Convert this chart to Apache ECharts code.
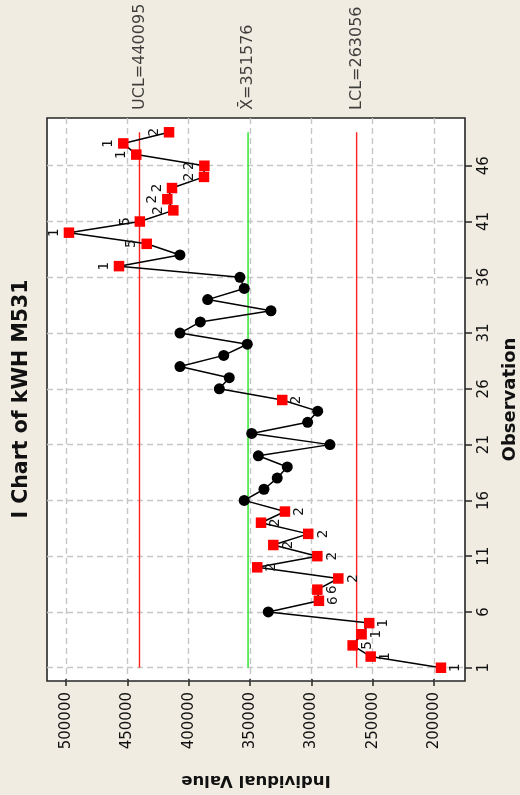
<!DOCTYPE html>
<html>
<head>
<meta charset="utf-8">
<title>I Chart of kWH M531</title>
<script src="https://cdn.jsdelivr.net/npm/echarts@6/dist/echarts.min.js"></script>
<style>
  html, body { margin: 0; padding: 0; background: #f0ece2; }
  #chart { width: 520px; height: 795px; }
</style>
</head>
<body>
<div id="chart"></div>
<script>
// Individuals control chart, drawn turned a quarter-turn: observations run
// up the right-hand axis and the measured value runs right-to-left.

const chartTitle = 'I Chart of kWH M531';
const valueAxisName = 'Individual Value';
const obsAxisName = 'Observation';

const observations = [
  1, 2, 3, 4, 5, 6, 7, 8, 9, 10,
  11, 12, 13, 14, 15, 16, 17, 18, 19, 20,
  21, 22, 23, 24, 25, 26, 27, 28, 29, 30,
  31, 32, 33, 34, 35, 36, 37, 38, 39, 40,
  41, 42, 43, 44, 45, 46, 47, 48, 49
];

const kwh = [
  194300, 251600, 266300, 259000, 252800, 335100, 293800, 295100, 278000, 344100,
  295100, 331000, 302500, 341000, 321500, 354700, 338600, 327800, 319600, 343200,
  284800, 348600, 303000, 294800, 323700, 375000, 366900, 407100, 371400, 352200,
  407100, 390500, 332900, 384500, 354700, 358200, 456800, 407100, 434200, 497600,
  439800, 412500, 417400, 413600, 387500, 387200, 442700, 453300, 416000
];

// Failed test number for each observation ('' = in control)
const testFlags = [
  '1', '1', '5', '1', '1', '', '6', '6', '2', '2',
  '2', '2', '2', '2', '2', '', '', '', '', '',
  '', '', '', '', '2', '', '', '', '', '',
  '', '', '', '', '', '', '1', '', '5', '1',
  '5', '2', '2', '2', '2', '2', '1', '1', '2'
];

const limitNames = ['UCL=440095', 'X\u0304=351576', 'LCL=263056'];
const limitValues = [440095, 351576, 263056];
const limitColors = ['#ff2020', '#22e622', '#ff2020'];

const valueTicks = [200000, 250000, 300000, 350000, 400000, 450000, 500000];
const obsTicks = [1, 6, 11, 16, 21, 26, 31, 36, 41, 46];

const FONT = '"DejaVu Sans", "Liberation Sans", sans-serif';
const centerValue = limitValues[1];
const firstObs = observations[0];
const lastObs = observations[observations.length - 1];
const obsMin = -0.19, obsMax = 50.28;

const gridLine = { show: true, lineStyle: { color: '#c6c6c6', type: [6, 4], width: 1.4 } };

const pointData = observations.map((o, i) => {
  const flag = testFlags[i];
  return {
    value: [kwh[i], o],
    symbol: flag ? 'rect' : 'circle',
    symbolSize: flag ? 10.5 : 11,
    itemStyle: { color: flag ? '#ff0000' : '#000000' },
    label: {
      show: !!flag,
      formatter: flag,
      position: kwh[i] > centerValue ? 'left' : 'right'
    }
  };
});

const limitSeries = limitValues.map((v, i) => ({
  type: 'line',
  name: limitNames[i],
  data: [[v, firstObs], [v, lastObs]],
  showSymbol: false,
  symbol: 'none',
  silent: true,
  z: 1,
  lineStyle: { color: limitColors[i], width: 1.4 }
}));

const chart = echarts.init(document.getElementById('chart'), null, { renderer: 'canvas' });

chart.setOption({
  animation: false,
  backgroundColor: '#f0ece2',
  textStyle: { fontFamily: FONT },
  grid: {
    left: 47, right: 55, top: 118, bottom: 114,
    outerBoundsMode: 'none',
    containLabel: false,
    show: true, backgroundColor: '#ffffff',
    borderColor: '#262626', borderWidth: 1.6
  },
  xAxis: {
    type: 'value',
    inverse: true,
    min: 174700,
    max: 515500,
    position: 'bottom',
    name: valueAxisName,
    nameLocation: 'middle',
    nameRotate: 180,
    nameGap: 91,
    nameTextStyle: { fontFamily: FONT, fontWeight: 'bold', fontSize: 16.5, color: '#111', lineHeight: 17 },
    axisLine: { show: false },
    axisTick: { show: true, customValues: valueTicks, length: 7, lineStyle: { color: '#262626', width: 1.5 } },
    axisLabel: {
      customValues: valueTicks, rotate: 90, margin: 11, fontSize: 15, color: '#111', fontFamily: FONT,
      formatter: v => String(v)
    },
    splitLine: gridLine
  },
  yAxis: {
    type: 'value',
    min: obsMin,
    max: obsMax,
    position: 'right',
    name: obsAxisName,
    nameLocation: 'middle',
    nameRotate: 90,
    nameGap: 36,
    nameTextStyle: { fontFamily: FONT, fontWeight: 'bold', fontSize: 18, color: '#111' },
    axisLine: { show: false },
    axisTick: { show: true, customValues: obsTicks, length: 7, lineStyle: { color: '#262626', width: 1.5 } },
    axisLabel: {
      customValues: obsTicks, rotate: 90, margin: 12, fontSize: 15, color: '#111', fontFamily: FONT,
      formatter: v => String(v)
    },
    splitLine: gridLine
  },
  graphic: [{
    type: 'text',
    x: 22,
    y: 399,
    rotation: Math.PI / 2,
    style: {
      text: chartTitle,
      font: 'bold 20.5px ' + FONT,
      fill: '#111',
      align: 'center',
      verticalAlign: 'middle'
    }
  }],
  series: [
    ...limitSeries,
    {
      type: 'scatter',
      name: 'limit labels',
      silent: true,
      symbolSize: 0.1,
      itemStyle: { color: 'transparent' },
      data: limitValues.map(v => [v, obsMax]),
      label: {
        show: true,
        formatter: p => limitNames[p.dataIndex],
        position: 'top',
        distance: 8,
        rotate: 90,
        align: 'left',
        verticalAlign: 'middle',
        fontSize: 16,
        color: '#111',
        fontFamily: FONT
      },
      clip: false,
      z: 3
    },
    {
      type: 'line',
      name: 'kWH',
      data: pointData,
      z: 5,
      lineStyle: { color: '#000', width: 1.5 },
      label: {
        rotate: 90,
        distance: 9.5,
        align: 'center',
        verticalAlign: 'middle',
        fontSize: 13.5,
        color: '#111',
        fontFamily: FONT
      }
    }
  ]
});
</script>
</body>
</html>
